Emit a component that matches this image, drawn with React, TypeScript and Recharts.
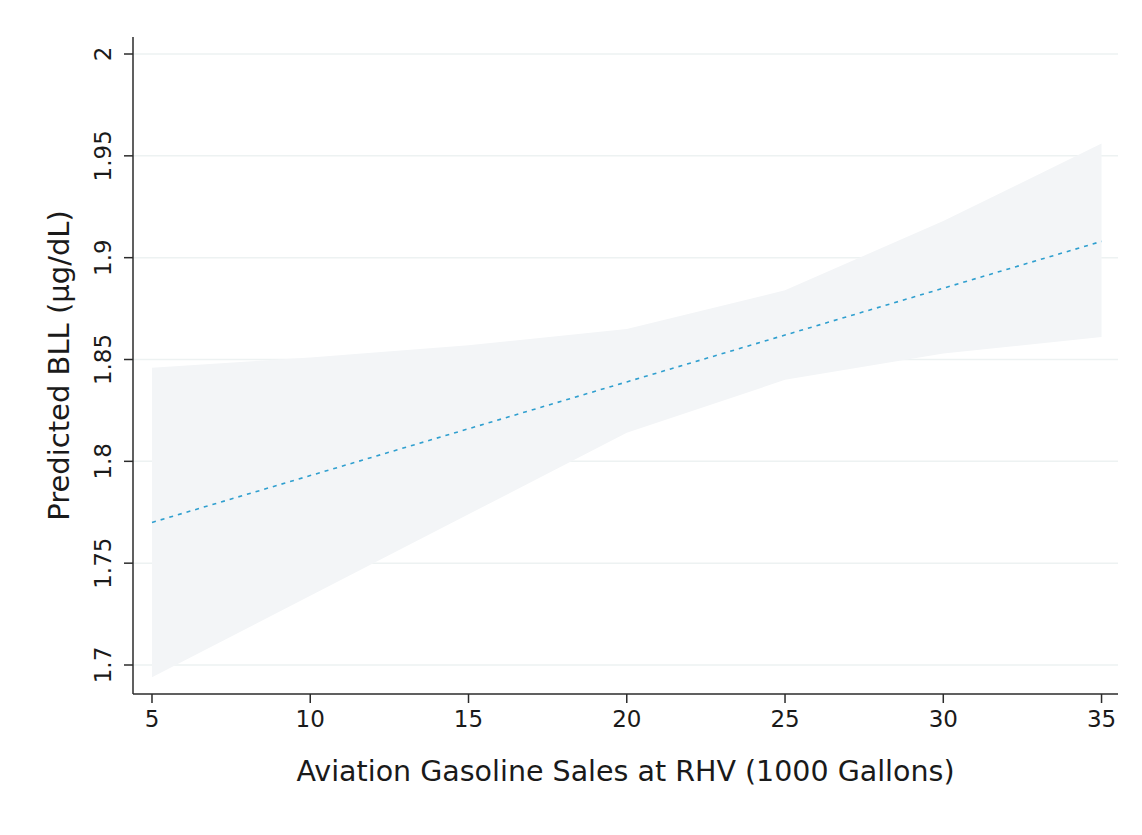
import React from 'react';
import { ComposedChart, Area, Line, XAxis, YAxis, CartesianGrid } from 'recharts';

// values
const sales = [5, 10, 15, 20, 25, 30, 35];
const predicted = [1.770, 1.793, 1.816, 1.839, 1.862, 1.885, 1.908];
const ciLower = [1.694, 1.734, 1.774, 1.814, 1.840, 1.853, 1.861];
const ciUpper = [1.846, 1.851, 1.857, 1.865, 1.884, 1.918, 1.956];

const xTicks = [5, 10, 15, 20, 25, 30, 35];
const yTicks = [1.7, 1.75, 1.8, 1.85, 1.9, 1.95, 2];

const FONT = '"DejaVu Sans", sans-serif';
const TEXT = '#1a1a1a';

const data = sales.map((x, i) => ({
  x,
  fit: predicted[i],
  band: [ciLower[i], ciUpper[i]],
}));

const YTick = (props: any) => {
  const { x, y, payload } = props;
  return (
    <text
      transform={`translate(${x - 11},${y}) rotate(-90)`}
      textAnchor="middle"
      fontSize={23}
      fontFamily={FONT}
      fill={TEXT}
    >
      {payload.value}
    </text>
  );
};

const XTick = (props: any) => {
  const { x, y, payload } = props;
  return (
    <text x={x} y={y + 22} textAnchor="middle" fontSize={23} fontFamily={FONT} fill={TEXT}>
      {payload.value}
    </text>
  );
};

export default function App() {
  return (
    <div style={{ position: 'absolute', left: 0, top: 0, background: '#fff' }}>
      <ComposedChart
        width={1142}
        height={835}
        data={data}
        margin={{ top: 37, right: 24, left: 0, bottom: 0 }}
      >
        <CartesianGrid vertical={false} stroke="#edf2f2" strokeWidth={1.5} syncWithTicks />
        <XAxis
          dataKey="x"
          type="number"
          domain={[4.4, 35.52]}
          ticks={xTicks}
          allowDataOverflow
          height={141}
          tickSize={9}
          stroke="#2b2b2b"
          strokeWidth={1.5}
          tick={<XTick />}
          label={{
            value: 'Aviation Gasoline Sales at RHV (1000 Gallons)',
            position: 'insideTop',
            offset: 67,
            fontSize: 28.5,
            fontFamily: FONT,
            fill: TEXT,
          }}
        />
        <YAxis
          type="number"
          domain={[1.68576, 2.00835]}
          ticks={yTicks}
          allowDataOverflow
          width={133}
          tickSize={9}
          stroke="#2b2b2b"
          strokeWidth={1.5}
          tick={<YTick />}
          label={{
            value: 'Predicted BLL (µg/dL)',
            angle: -90,
            position: 'insideLeft',
            offset: 59,
            fontSize: 29,
            fontFamily: FONT,
            fill: TEXT,
            style: { textAnchor: 'middle' },
          }}
        />
        <Area
          dataKey="band"
          type="linear"
          fill="#f3f5f7"
          fillOpacity={1}
          stroke="none"
          isAnimationActive={false}
        />
        <Line
          dataKey="fit"
          type="linear"
          stroke="#2f9fcf"
          strokeWidth={1.6}
          strokeDasharray="4 5"
          dot={false}
          isAnimationActive={false}
        />
      </ComposedChart>
    </div>
  );
}
